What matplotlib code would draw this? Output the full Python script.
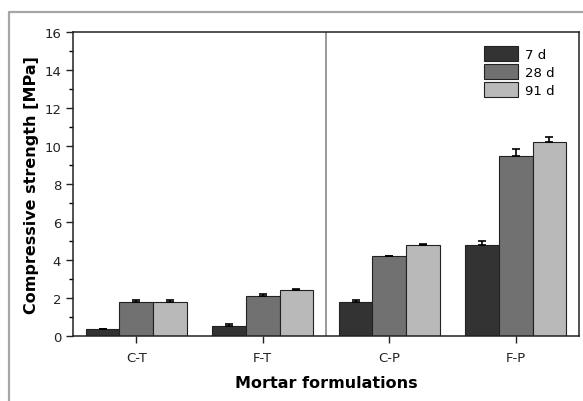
import matplotlib.pyplot as plt
import numpy as np
from matplotlib.lines import Line2D
from matplotlib.ticker import MultipleLocator

plt.rcParams['font.family'] = ['DejaVu Sans']

# data
groups = ['C-T', 'F-T', 'C-P', 'F-P']
ages = ['7 d', '28 d', '91 d']
strength_7 = [0.35, 0.5, 1.8, 4.8]
strength_28 = [1.8, 2.1, 4.2, 9.5]
strength_91 = [1.8, 2.4, 4.8, 10.2]
err_7 = [0.03, 0.12, 0.08, 0.2]
err_28 = [0.08, 0.1, 0.02, 0.35]
err_91 = [0.08, 0.08, 0.06, 0.3]

colors = ['#333333', '#717171', '#b9b9b9']

fig = plt.figure(figsize=(5.83, 4.02), dpi=100)
ax = fig.add_axes([0.1252, 0.1617, 0.8679, 0.7562])

# gray outer frame (only top and left visible)
fx = 9 / 583
fy = 1 - 13 / 402
fig.lines.append(Line2D([fx, fx, 1.0], [0.0, fy, fy], transform=fig.transFigure,
                        color='#a6a6a6', linewidth=1.6, solid_capstyle='butt'))

x = np.arange(1, len(groups) + 1)
w = 0.8 / 3
series = [strength_7, strength_28, strength_91]
errs = [err_7, err_28, err_91]
for i, (vals, e) in enumerate(zip(series, errs)):
    pos = x + (i - 1) * w
    ax.bar(pos, vals, width=w, color=colors[i], edgecolor='#222222',
           linewidth=0.8, label=ages[i], zorder=2)
    ax.errorbar(pos, vals, yerr=[np.zeros(len(e)), e], fmt='none',
                ecolor='black', elinewidth=1.2, capsize=3, capthick=1.2, zorder=3)

ax.axvline(2.5, color='#888888', linewidth=1.2, zorder=1)

ax.set_xlim(0.5, 4.5)
ax.set_ylim(0, 16)
ax.set_xticks(x)
ax.set_xticklabels(groups)
ax.yaxis.set_major_locator(MultipleLocator(2))
ax.yaxis.set_minor_locator(MultipleLocator(1))
ax.tick_params(axis='both', which='major', direction='out', length=5,
               width=1, labelsize=9.5, colors='#222222')
ax.tick_params(axis='y', which='minor', direction='out', length=3, width=1)
ax.tick_params(axis='x', pad=6)
for s in ax.spines.values():
    s.set_linewidth(1.1)
    s.set_color('#222222')

ax.set_ylabel('Compressive strength [MPa]', fontsize=11.5, fontweight='bold', labelpad=4)
ax.set_xlabel('Mortar formulations', fontsize=11.5, fontweight='bold', labelpad=8)

ax.legend(loc='upper right', bbox_to_anchor=(0.97, 0.985), frameon=False,
          fontsize=9.5, handlelength=2.6, handleheight=1.4, labelspacing=0.2,
          handletextpad=0.5, borderaxespad=0.3)

fig.savefig('out.png', dpi=100, facecolor='white')
